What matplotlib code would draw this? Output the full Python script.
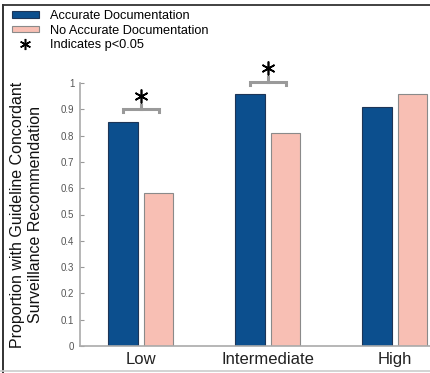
import numpy as np
import matplotlib
matplotlib.use('Agg')
from matplotlib import pyplot as plt
from matplotlib.lines import Line2D

plt.rcParams['font.family'] = ['Liberation Sans', 'DejaVu Sans']

# risk groups and proportions
groups = ['Low', 'Intermediate', 'High']
accurate = [0.85, 0.96, 0.91]
not_accurate = [0.58, 0.81, 0.96]
# groups with p<0.05 (index) and height of the bracket
sig_groups = [0, 1]
sig_heights = [0.90, 1.005]

blue = '#0c4f8e'
pink = '#f8bfb4'

fig = plt.figure(figsize=(4.3, 3.73), dpi=100)
ax = fig.add_axes([80 / 430, 27 / 373, 350 / 430, 263 / 373])

x = np.arange(1, len(groups) + 1)
w = 0.232
off = 0.14
ax.bar(x - off, accurate, w, color=blue, edgecolor='#1d3557', linewidth=0.8,
       label='Accurate Documentation')
ax.bar(x + off, not_accurate, w, color=pink, edgecolor='#8a8a8a', linewidth=0.8,
       label='No Accurate Documentation')

# significance brackets with stars
for i, h in zip(sig_groups, sig_heights):
    xl, xr = x[i] - 0.14, x[i] + 0.14
    ax.plot([xl, xl, xr, xr], [h - 0.012, h, h, h - 0.012], color='#9a9a9a',
            lw=2.2, clip_on=False, solid_joinstyle='miter')
    ax.plot([x[i], x[i]], [h, h + 0.018], color='#9a9a9a', lw=2.2, clip_on=False)
    ax.plot(x[i], h + 0.052, marker=(6, 2, 0), ms=10, color='black', mew=1.2,
            clip_on=False)

ax.set_xlim(0.52, 3.276)
ax.set_ylim(0, 1)
ax.set_yticks(np.arange(0, 1.01, 0.1))
ax.set_yticklabels(['0'] + ['%.1f' % v for v in np.arange(0.1, 0.95, 0.1)] + ['1'])
ax.set_xticks(x)
ax.set_xticklabels(groups, fontsize=12, color='#222222')
ax.tick_params(axis='y', direction='in', length=3, color='#999999',
               labelsize=7, labelcolor='#555555', pad=4)
ax.tick_params(axis='x', length=0, pad=4)
for s in ['top', 'right']:
    ax.spines[s].set_visible(False)
for s in ['left', 'bottom']:
    ax.spines[s].set_color('#aaaaaa')
    ax.spines[s].set_linewidth(1.2)

ax.set_ylabel('Proportion with Guideline Concordant\nSurveillance Recommendation',
              fontsize=11.5, color='#111111', linespacing=1.3)
ax.yaxis.set_label_coords(-0.105, 0.5)

star = Line2D([], [], ls='none', marker=(6, 2, 0), ms=8, mew=1.1, color='black',
              label='Indicates p<0.05')
handles, labels = ax.get_legend_handles_labels()
leg = fig.legend(handles + [star], labels + ['Indicates p<0.05'],
                 loc='upper left', bbox_to_anchor=(12 / 430, 1 - 10 / 373),
                 frameon=False, fontsize=9.2, handlelength=2.1, handleheight=0.45,
                 handletextpad=0.85, labelspacing=0.2, borderpad=0,
                 borderaxespad=0)

# outer frame
fig.add_artist(Line2D([3 / 430, 3 / 430], [0, 1 - 5 / 373], color='#222222', lw=1.3,
                      transform=fig.transFigure))
fig.add_artist(Line2D([3 / 430, 1], [1 - 5 / 373, 1 - 5 / 373], color='#333333',
                      lw=1.3, transform=fig.transFigure))
fig.add_artist(Line2D([0, 1], [2 / 373, 2 / 373], color='#cccccc', lw=1.2,
                      transform=fig.transFigure))

fig.savefig('out.png', dpi=100)
